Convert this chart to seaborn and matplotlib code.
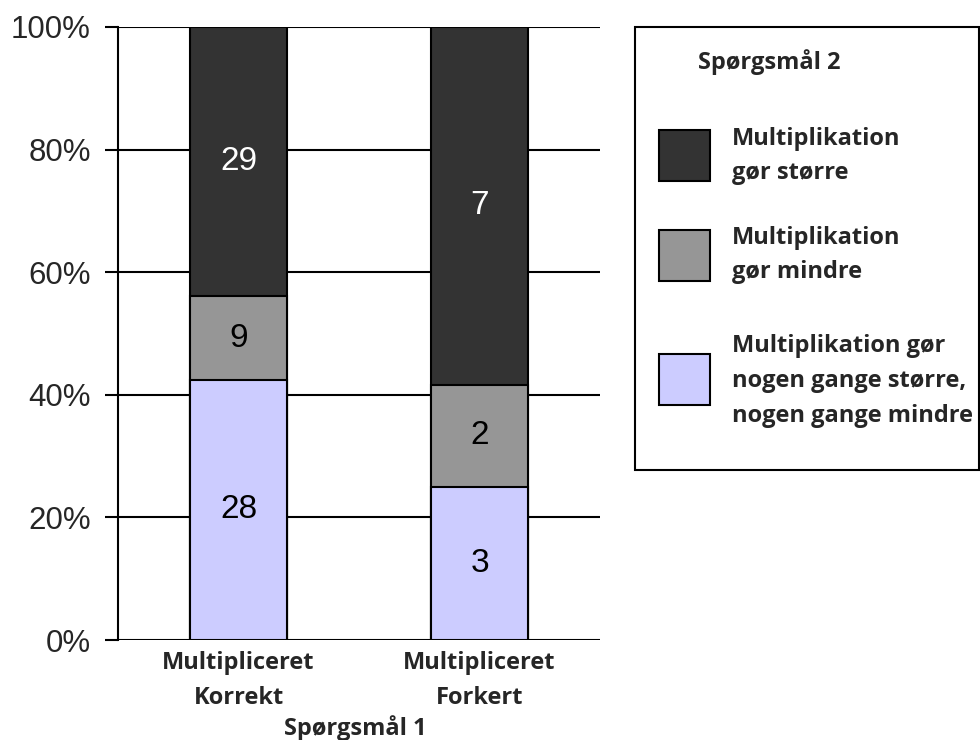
import numpy as np
import pandas as pd
import matplotlib
matplotlib.use("Agg")
import matplotlib.pyplot as plt
import seaborn as sns
from matplotlib.patches import Rectangle

# Answers to question 1 (x categories) and the question 2 counts per group
categories = ["Multipliceret\nKorrekt", "Multipliceret\nForkert"]
counts_both = [28, 3]      # "Multiplikation gør nogen gange større, nogen gange mindre"
counts_smaller = [9, 2]    # "Multiplikation gør mindre"
counts_larger = [29, 7]    # "Multiplikation gør større"

series_labels = ["Multiplikation\ngør større",
                 "Multiplikation\ngør mindre",
                 "Multiplikation gør\nnogen gange større,\nnogen gange mindre"]
colors = ["#333333", "#969696", "#CCCCFF"]
ytick_labels = ["0%", "20%", "40%", "60%", "80%", "100%"]

sns.set_theme(style="white")
plt.rcParams["font.family"] = ["Liberation Sans", "DejaVu Sans"]
BOLD = ["Open Sans", "DejaVu Sans"]

both = np.array(counts_both, float)
smaller = np.array(counts_smaller, float)
larger = np.array(counts_larger, float)
total = both + smaller + larger

pct_both = both / total * 100
pct_smaller = smaller / total * 100
pct_larger = larger / total * 100

df = pd.DataFrame({
    "group": categories,
    "top_larger": pct_both + pct_smaller + pct_larger,
    "top_smaller": pct_both + pct_smaller,
    "top_both": pct_both,
})

fig = plt.figure(figsize=(9.8, 7.4), dpi=100)
ax = fig.add_axes([118 / 980, 1 - 640 / 740, (600 - 118) / 980, (640 - 27) / 740])

# Stack by overdrawing cumulative heights, tallest first
for col, color in zip(["top_larger", "top_smaller", "top_both"], colors):
    sns.barplot(data=df, x="group", y=col, color=color, width=0.4,
                edgecolor="black", linewidth=1.5, saturation=1, ax=ax, zorder=3)

ax.set_xlim(-0.5, 1.5)
ax.set_ylim(0, 100)
ax.set_yticks([0, 20, 40, 60, 80, 100])
ax.set_yticklabels(ytick_labels, fontsize=22.5)
ax.yaxis.grid(True, color="black", linewidth=1.5, zorder=0)
ax.set_axisbelow(True)
for s in ["top", "right", "bottom"]:
    ax.spines[s].set_visible(False)
ax.spines["left"].set_color("black")
ax.spines["left"].set_linewidth(1.5)
ax.tick_params(axis="y", length=9.5, width=1.5, color="black", pad=10, left=True)
ax.tick_params(axis="x", length=0, pad=8)
ax.set_xticks([0, 1])
ax.set_xticklabels(categories, fontsize=17, fontweight="bold",
                   family=BOLD, linespacing=1.6)
ax.set_xlabel("")
ax.set_ylabel("")

# Segment value labels
for i in range(len(categories)):
    ax.text(i, pct_both[i] / 2, f"{int(both[i])}", ha="center", va="center",
            fontsize=24, color="black", zorder=5)
    ax.text(i, pct_both[i] + pct_smaller[i] / 2, f"{int(smaller[i])}",
            ha="center", va="center", fontsize=24, color="black", zorder=5)
    ax.text(i, pct_both[i] + pct_smaller[i] + pct_larger[i] / 2,
            f"{int(larger[i])}", ha="center", va="center", fontsize=24,
            color="white", zorder=5)

fig.text(355 / 980, 1 - 728 / 740, "Spørgsmål 1", ha="center", va="center",
         fontsize=17, fontweight="bold", family=BOLD)

# Legend panel
W, H = 980, 740
def fx(px):
    return px / W
def fy(py):
    return 1 - py / H

fig.patches.append(Rectangle((fx(635), fy(470)), fx(979) - fx(635), fy(27) - fy(470),
                             transform=fig.transFigure, facecolor="white",
                             edgecolor="black", linewidth=1.5, zorder=1))
fig.text(fx(698), fy(62), "Spørgsmål 2", ha="left", va="center", fontsize=17,
         fontweight="bold", family=BOLD)

swatch_tops = [130, 230, 354]
text_centers = [156, 255, 381]
for top, tc, color, label in zip(swatch_tops, text_centers, colors, series_labels):
    fig.patches.append(Rectangle((fx(659), fy(top + 51)), fx(710) - fx(659),
                                 fy(top) - fy(top + 51), transform=fig.transFigure,
                                 facecolor=color, edgecolor="black", linewidth=1.5,
                                 zorder=2))
    fig.text(fx(732), fy(tc), label, ha="left", va="center", fontsize=17,
             fontweight="bold", family=BOLD, linespacing=1.6)

fig.savefig("out.png", dpi=100)
